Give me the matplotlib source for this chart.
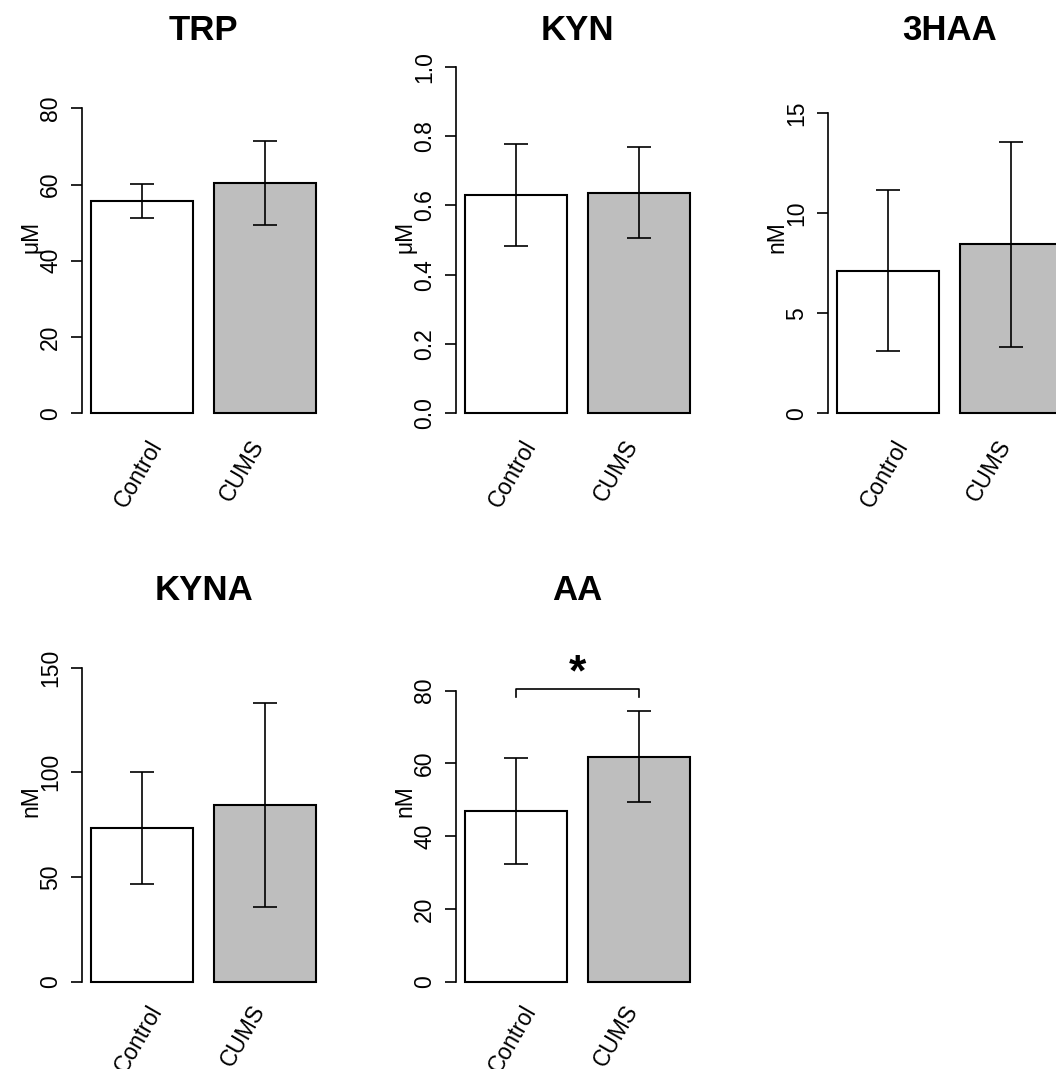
import matplotlib
matplotlib.use("Agg")
import matplotlib.pyplot as plt
import matplotlib.transforms as mtransforms
import numpy as np

plt.rcParams['font.family'] = ['Liberation Sans', 'DejaVu Sans']

# ---------------- data ----------------
groups = ["Control", "CUMS"]
panel_titles = ["TRP", "KYN", "3HAA", "KYNA", "AA"]
panel_units = ["μM", "μM", "nM", "nM", "nM"]

trp_mean = [55.6, 60.4]
trp_sd = [4.5, 10.95]
kyn_mean = [0.630, 0.636]
kyn_sd = [0.1465, 0.1315]
haa_mean = [7.13, 8.45]
haa_sd = [4.03, 5.125]
kyna_mean = [73.3, 84.3]
kyna_sd = [26.65, 48.75]
aa_mean = [47.0, 61.9]
aa_sd = [14.55, 12.4]

means = [trp_mean, kyn_mean, haa_mean, kyna_mean, aa_mean]
sds = [trp_sd, kyn_sd, haa_sd, kyna_sd, aa_sd]

y_ticks = [
    [0, 20, 40, 60, 80],
    [0.0, 0.2, 0.4, 0.6, 0.8, 1.0],
    [0, 5, 10, 15],
    [0, 50, 100, 150],
    [0, 20, 40, 60, 80],
]
y_tick_labels = [
    ["0", "20", "40", "60", "80"],
    ["0.0", "0.2", "0.4", "0.6", "0.8", "1.0"],
    ["0", "5", "10", "15"],
    ["0", "50", "100", "150"],
    ["0", "20", "40", "60", "80"],
]

# significance annotation (AA panel)
sig_panel = 4
sig_label = "*"
sig_bracket_top = 80.5
sig_bracket_leg = 78.3
sig_star_y = 84.6

# ---------------- layout ----------------
W, H = 1056, 1069
fig = plt.figure(figsize=(W / 100, H / 100), dpi=100)

bar_colors = ["white", "#BEBEBE"]
panel_left_px = [82, 456, 828.3, 82.3, 456]
panel_row = [0, 0, 0, 1, 1]
row_top_px = [52.8, 621.2]
row_bot_px = [427.2, 995.6]
panel_width_px = 242.7
y_limits = [(-3.646, 94.56), (-0.0401, 1.0401), (-0.695, 18.025),
            (-6.64, 172.2), (-3.82, 99.1)]
title_baseline_px = [40, 600]
ylabel_center_px = [237, 800.8]
xlabel_anchor_px = [445, 1010]
xlabel_offset = 0.9

FS = 16.5

for i in range(len(panel_titles)):
    r = panel_row[i]
    L = panel_left_px[i]
    T, B = row_top_px[r], row_bot_px[r]
    ax = fig.add_axes([L / W, 1 - B / H, panel_width_px / W, (B - T) / H])
    ax.patch.set_alpha(0)

    centers = 0.7 + 1.2 * np.arange(len(groups))
    ax.bar(centers, means[i], width=1.0, color=bar_colors,
           edgecolor="black", linewidth=1.5, zorder=2)
    ax.errorbar(centers, means[i], yerr=sds[i], fmt="none", ecolor="black",
                elinewidth=1.2, capsize=8.3, capthick=1.2, zorder=3)

    ax.set_xlim(0.112, 2.488)
    ax.set_ylim(*y_limits[i])
    for s in ["top", "right", "bottom"]:
        ax.spines[s].set_visible(False)
    ax.spines["left"].set_bounds(y_ticks[i][0], y_ticks[i][-1])
    ax.spines["left"].set_linewidth(1.2)
    ax.set_xticks([])
    ax.set_yticks(y_ticks[i])
    ax.set_yticklabels(y_tick_labels[i], rotation=90, va="center", fontsize=FS)
    ax.tick_params(axis="y", length=7.7, width=1.2, pad=6.5)

    # rotated group labels
    trans = mtransforms.blended_transform_factory(ax.transData, fig.transFigure)
    for j, g in enumerate(groups):
        ax.text(j + xlabel_offset, 1 - xlabel_anchor_px[r] / H, g, rotation=60,
                rotation_mode="anchor", ha="right", va="baseline",
                fontsize=FS, transform=trans, clip_on=False)

    # title
    cx = L + panel_width_px / 2
    fig.text(cx / W, 1 - title_baseline_px[r] / H, panel_titles[i],
             ha="center", va="baseline", fontsize=25, fontweight="bold")

    # unit label
    fig.text((L - 45) / W, 1 - ylabel_center_px[r] / H, panel_units[i],
             rotation=90, rotation_mode="anchor", ha="center", va="baseline",
             fontsize=FS)

    if i == sig_panel:
        ax.plot([centers[0], centers[0], centers[1], centers[1]],
                [sig_bracket_leg, sig_bracket_top, sig_bracket_top, sig_bracket_leg],
                color="black", linewidth=1.2, clip_on=False)
        ax.text(centers.mean(), sig_star_y, sig_label, ha="center", va="center",
                fontsize=32, fontweight="bold", clip_on=False)

fig.savefig("out.png", dpi=100)
